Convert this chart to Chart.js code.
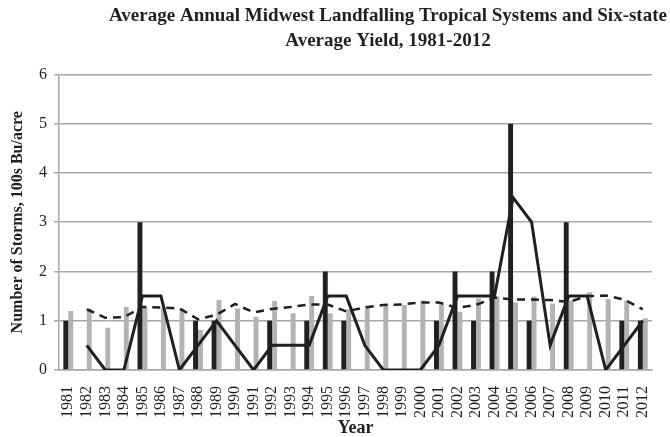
<!DOCTYPE html>
<html>
<head>
<meta charset="utf-8">
<script src="https://cdn.jsdelivr.net/npm/chart.js@4.4.1/dist/chart.umd.min.js"></script>
<style>
  html, body { margin: 0; padding: 0; background: #ffffff; }
  #wrap { width: 670px; height: 437px; }
</style>
</head>
<body>
<div id="wrap"><canvas id="c" width="670" height="437"></canvas></div>
<script>
const years = ['1981','1982','1983','1984','1985','1986','1987','1988','1989','1990','1991','1992','1993','1994','1995','1996','1997','1998','1999','2000','2001','2002','2003','2004','2005','2006','2007','2008','2009','2010','2011','2012'];

// Number of landfalling tropical systems per year
const storms = [1,0,0,0,3,0,0,1,1,0,0,1,0,1,2,1,0,0,0,0,1,2,1,2,5,1,0,3,0,0,1,1];

// Six-state average yield, 100s bu/acre
const yieldVals = [1.20,1.25,0.86,1.28,1.28,1.25,1.25,0.81,1.42,1.25,1.08,1.40,1.15,1.50,1.15,1.23,1.30,1.33,1.32,1.41,1.33,1.18,1.45,1.49,1.37,1.49,1.35,1.41,1.58,1.44,1.41,1.05];

// Two-year moving average of storms (solid line)
const stormsAvg = [null,0.5,0,0,1.5,1.5,0,0.5,1,0.5,0,0.5,0.5,0.5,1.5,1.5,0.5,0,0,0,0.5,1.5,1.5,1.5,3.5,3,0.5,1.5,1.5,0,0.5,1];

// Two-year moving average of yield (dashed line)
const yieldAvg = [null,1.23,1.06,1.07,1.28,1.27,1.25,1.03,1.12,1.34,1.17,1.24,1.28,1.33,1.33,1.19,1.27,1.32,1.33,1.37,1.37,1.26,1.32,1.47,1.43,1.43,1.42,1.38,1.50,1.51,1.43,1.23];

const yTicks = [0,1,2,3,4,5,6];

const titleLines = ['Average Annual Midwest Landfalling Tropical Systems and Six-state', 'Average Yield, 1981-2012'];

const INK = '#231f20';
const GRID = '#a8a8a8';
const SERIF = '"Liberation Serif", "Times New Roman", serif';

const shiftTitle = {
  id: 'shiftTitle',
  beforeDraw(chart) {
    const t = chart.titleBlock;
    if (t) { t.left = 104; t.right = 672; }
  }
};

new Chart(document.getElementById('c'), {
  data: {
    labels: years,
    datasets: [
      { type: 'line', label: 'Storms 2-yr average', data: stormsAvg, borderColor: INK, borderWidth: 3, pointRadius: 0, tension: 0, fill: false, order: 0 },
      { type: 'line', label: 'Yield 2-yr average', data: yieldAvg, borderColor: INK, borderWidth: 2.5, borderDash: [8, 6], pointRadius: 0, tension: 0, fill: false, order: 0 },
      { type: 'bar', label: 'Storms', data: storms, backgroundColor: INK, borderWidth: 0, categoryPercentage: 0.53, barPercentage: 1.0, order: 1 },
      { type: 'bar', label: 'Yield', data: yieldVals, backgroundColor: '#b3b3b3', borderWidth: 0, categoryPercentage: 0.53, barPercentage: 1.0, order: 1 }
    ]
  },
  options: {
    responsive: false,
    animation: false,
    devicePixelRatio: 1,
    layout: { padding: { left: 0, right: 0, top: 0, bottom: 0 } },
    plugins: {
      legend: { display: false },
      tooltip: { enabled: false },
      title: {
        display: true,
        text: titleLines,
        color: INK,
        font: { family: SERIF, size: 19, weight: 'bold', lineHeight: 1.3 },
        padding: { top: 4, bottom: 21 }
      }
    },
    scales: {
      x: {
        afterFit(scale) { scale.height = 67; },
        grid: { display: false },
        border: { display: true, color: GRID, width: 1.5 },
        ticks: {
          color: INK,
          minRotation: 90, maxRotation: 90,
          autoSkip: false,
          padding: 8,
          font: { family: SERIF, size: 16 }
        },
        title: {
          display: true, text: 'Year', color: INK,
          padding: { top: 0, bottom: 0 },
          font: { family: SERIF, size: 18, weight: 'bold', lineHeight: 1.0 }
        }
      },
      y: {
        min: 0, max: 6,
        afterFit(scale) { scale.width = 59; },
        afterBuildTicks(axis) { axis.ticks = yTicks.map(v => ({ value: v })); },
        grid: { color: GRID, lineWidth: 1.5, drawTicks: true, tickLength: 5 },
        border: { display: true, color: GRID, width: 1.5 },
        ticks: {
          color: INK,
          padding: 7,
          font: { family: SERIF, size: 16 }
        },
        title: {
          display: true, text: 'Number of Storms, 100s Bu/acre', color: INK,
          padding: { top: 8, bottom: 0 },
          font: { family: SERIF, size: 16, weight: 'bold', lineHeight: 1.2 }
        }
      }
    }
  },
  plugins: [shiftTitle]
});
</script>
</body>
</html>
